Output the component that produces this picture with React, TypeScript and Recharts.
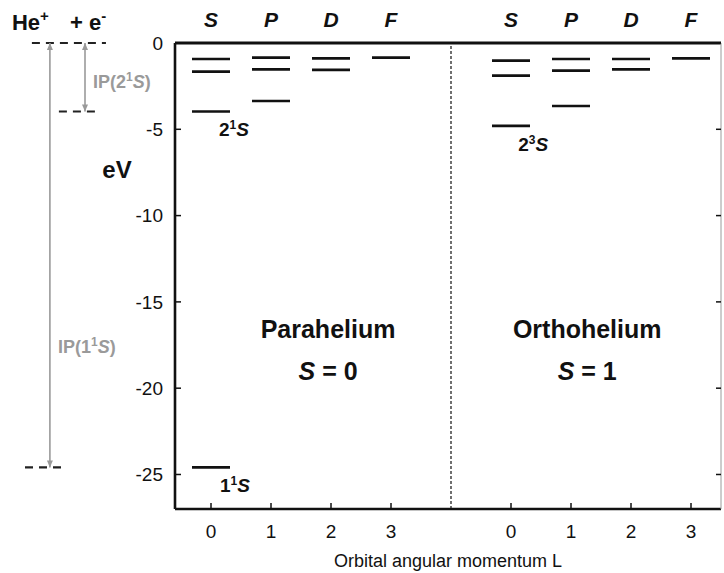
import React from "react";
import { ScatterChart, Scatter, XAxis, YAxis, ReferenceLine, ReferenceDot } from "recharts";

// energy levels in eV below the He+ + e- limit
const paraS = [-24.59, -3.97, -1.66, -0.93];
const paraP = [-3.36, -1.53, -0.85];
const paraD = [-1.56, -0.89];
const paraF = [-0.85];
const orthoS = [-4.8, -1.89, -1.02];
const orthoP = [-3.65, -1.6, -0.93];
const orthoD = [-1.53, -0.93];
const orthoF = [-0.89];

const orbitalL = [0, 1, 2, 3];
const orbitalNames = ["S", "P", "D", "F"];
const orthoShift = 5; // orthohelium columns sit 5 units right of parahelium
const yTicks = [0, -5, -10, -15, -20, -25];

const ionLimit = 0;
const ground = paraS[0];
const para2S = paraS[1];

const paraLevels = [paraS, paraP, paraD, paraF];
const orthoLevels = [orthoS, orthoP, orthoD, orthoF];

const levels = [
  ...paraLevels.flatMap((col, i) => col.map((E) => ({ L: orbitalL[i], E }))),
  ...orthoLevels.flatMap((col, i) => col.map((E) => ({ L: orbitalL[i] + orthoShift, E }))),
];
const xTicks = [...orbitalL, ...orbitalL.map((l) => l + orthoShift)];
const columnName = (v: number) => orbitalNames[v >= orthoShift ? v - orthoShift : v];

const FONT = "'Liberation Sans', Arial, Helvetica, sans-serif";
const INK = "#111";
const GREY = "#9a9a9a";

const LevelBar = (p: any) => (
  <line x1={p.cx - 19} x2={p.cx + 19} y1={p.cy} y2={p.cy} stroke={INK} strokeWidth={2.6} />
);

const textAt =
  (content: React.ReactNode, opts: { anchor?: string; size: number; fill?: string; italic?: boolean }) =>
  (p: any) => (
    <text
      x={p.cx}
      y={p.cy}
      textAnchor={opts.anchor ?? "start"}
      fontFamily={FONT}
      fontSize={opts.size}
      fontWeight="bold"
      fontStyle={opts.italic ? "italic" : "normal"}
      fill={opts.fill ?? INK}
    >
      {content}
    </text>
  );

// term symbol like 2¹S
const term = (n: string, mult: string, rise: number, supSize: number) => (
  <>
    <tspan>{n}</tspan>
    <tspan dy={-rise} fontSize={supSize}>{mult}</tspan>
    <tspan dy={rise} fontStyle="italic">S</tspan>
  </>
);

const Arrow = (p: any) => {
  const { x1, y1, x2, y2 } = p;
  const top = Math.min(y1, y2);
  const bot = Math.max(y1, y2);
  return (
    <g>
      <line x1={x1} x2={x2} y1={top} y2={bot} stroke={GREY} strokeWidth={1.6} />
      <path d={`M${x1 - 3},${top + 7} L${x1},${top} L${x1 + 3},${top + 7} Z`} fill={GREY} />
      <path d={`M${x1 - 3},${bot - 7} L${x1},${bot} L${x1 + 3},${bot - 7} Z`} fill={GREY} />
    </g>
  );
};

const dash = { stroke: "#222", strokeWidth: 2.2, strokeDasharray: "8 6" };

export default function App() {
  return (
    <div style={{ position: "absolute", left: 0, top: 0, width: 724, height: 573, background: "#fff" }}>
      <ScatterChart width={724} height={573} margin={{ top: 42, right: 2, bottom: 63, left: 174 }}>
        <XAxis
          type="number"
          dataKey="L"
          domain={[-0.6, 8.5]}
          ticks={xTicks}
          interval={0}
          allowDataOverflow
          height={1}
          tickFormatter={(v: number) => String(v >= orthoShift ? v - orthoShift : v)}
          axisLine={{ stroke: INK, strokeWidth: 2.6 }}
          tickLine={{ stroke: INK, strokeWidth: 1.5 }}
          tickSize={-6}
          tickMargin={22}
          tick={{ fill: INK, fontSize: 19, fontFamily: FONT }}
          label={{ value: "Orbital angular momentum L", position: "bottom", offset: 44, fill: INK, fontSize: 18, fontFamily: FONT }}
        />
        <XAxis
          xAxisId="top"
          orientation="top"
          type="number"
          domain={[-0.6, 8.5]}
          ticks={xTicks}
          allowDataOverflow
          height={1}
          axisLine={{ stroke: INK, strokeWidth: 3 }}
          tickLine={false}
          tick={false}
        />
        <YAxis
          type="number"
          dataKey="E"
          domain={[-27, 0]}
          ticks={yTicks}
          interval={0}
          allowDataOverflow
          width={1}
          axisLine={{ stroke: INK, strokeWidth: 2.6 }}
          tickLine={{ stroke: INK, strokeWidth: 1.5 }}
          tickSize={-6}
          tickMargin={18}
          tick={{ fill: INK, fontSize: 19, fontFamily: FONT }}
        />
        <YAxis
          yAxisId="right"
          orientation="right"
          type="number"
          domain={[-27, 0]}
          ticks={yTicks}
          interval={0}
          allowDataOverflow
          width={1}
          axisLine={{ stroke: GREY, strokeWidth: 1 }}
          tickLine={{ stroke: INK, strokeWidth: 1.5 }}
          tickSize={-5}
          tickFormatter={() => ""}
        />

        {/* divider between para- and orthohelium */}
        <ReferenceLine x={4} stroke={INK} strokeWidth={1.2} strokeDasharray="3 2" />

        <Scatter data={levels} shape={LevelBar} isAnimationActive={false} />

        {/* S P D F column headings above the frame */}
        {xTicks.map((v) => (
          <ReferenceDot key={v} x={v} y={0.93} ifOverflow="visible"
            shape={textAt(columnName(v), { size: 21, anchor: "middle", italic: true })} />
        ))}

        {/* left-hand ionization guide */}
        <ReferenceLine segment={[{ x: -2.985, y: ionLimit }, { x: -1.751, y: ionLimit }]} ifOverflow="visible" {...dash} />
        <ReferenceLine segment={[{ x: -2.535, y: para2S }, { x: -1.851, y: para2S }]} ifOverflow="visible" {...dash} />
        <ReferenceLine segment={[{ x: -3.1, y: ground }, { x: -2.4, y: ground }]} ifOverflow="visible" {...dash} />
        <ReferenceLine segment={[{ x: -2.685, y: ionLimit }, { x: -2.685, y: ground }]} ifOverflow="visible" shape={Arrow} />
        <ReferenceLine segment={[{ x: -2.1, y: ionLimit }, { x: -2.1, y: para2S }]} ifOverflow="visible" shape={Arrow} />

        <ReferenceDot x={-3.318} y={0.753} ifOverflow="visible"
          shape={textAt(<><tspan>He</tspan><tspan dy={-9} fontSize={15}>+</tspan></>, { size: 22 })} />
        <ReferenceDot x={-2.351} y={0.753} ifOverflow="visible"
          shape={textAt(<><tspan>+ e</tspan><tspan dy={-9} fontSize={15}>-</tspan></>, { size: 22 })} />
        <ReferenceDot x={-1.968} y={-2.607} ifOverflow="visible"
          shape={textAt(<><tspan>IP(</tspan>{term("2", "1", 7, 12)}<tspan>)</tspan></>, { size: 18, fill: GREY })} />
        <ReferenceDot x={-2.551} y={-17.96} ifOverflow="visible"
          shape={textAt(<><tspan>IP(</tspan>{term("1", "1", 7, 12)}<tspan>)</tspan></>, { size: 18, fill: GREY })} />
        <ReferenceDot x={-1.567} y={-7.82} ifOverflow="visible" shape={textAt("eV", { size: 24, anchor: "middle" })} />

        <ReferenceDot x={0.133} y={-5.39} ifOverflow="visible" shape={textAt(term("2", "1", 7, 12), { size: 19 })} />
        <ReferenceDot x={5.119} y={-6.26} ifOverflow="visible" shape={textAt(term("2", "3", 7, 12), { size: 19 })} />
        <ReferenceDot x={0.15} y={-26.01} ifOverflow="visible" shape={textAt(term("1", "1", 7, 12), { size: 19 })} />

        <ReferenceDot x={1.951} y={-17.09} ifOverflow="visible" shape={textAt("Parahelium", { size: 25, anchor: "middle" })} />
        <ReferenceDot x={1.951} y={-19.52} ifOverflow="visible"
          shape={textAt(<><tspan fontStyle="italic">S</tspan><tspan> = 0</tspan></>, { size: 25, anchor: "middle" })} />
        <ReferenceDot x={6.27} y={-17.09} ifOverflow="visible" shape={textAt("Orthohelium", { size: 25, anchor: "middle" })} />
        <ReferenceDot x={6.27} y={-19.52} ifOverflow="visible"
          shape={textAt(<><tspan fontStyle="italic">S</tspan><tspan> = 1</tspan></>, { size: 25, anchor: "middle" })} />
      </ScatterChart>
    </div>
  );
}
